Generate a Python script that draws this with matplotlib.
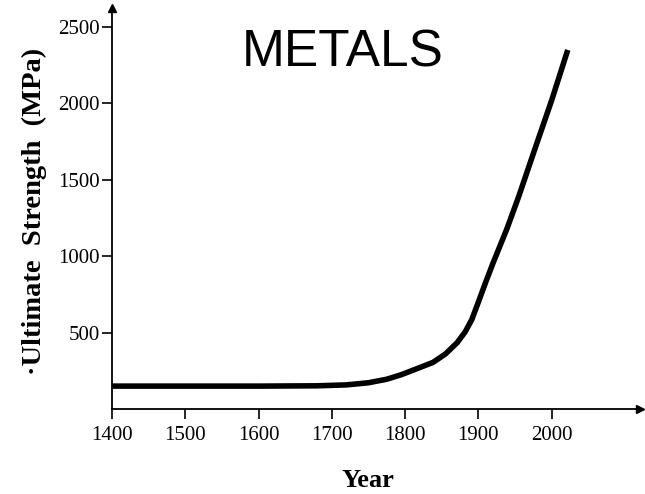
import numpy as np
import matplotlib
matplotlib.use("Agg")
import matplotlib.pyplot as plt

# values
years = [1400, 1500, 1600, 1680, 1720, 1750, 1775, 1795, 1815, 1838, 1855,
         1871, 1882, 1891, 1900, 1910, 1920, 1939, 1955, 1977, 2000, 2022]
strength = [150, 150, 150, 152, 158, 172, 195, 225, 262, 305, 360,
            434, 505, 585, 700, 830, 955, 1180, 1390, 1700, 2020, 2350]

x_ticks = [1400, 1500, 1600, 1700, 1800, 1900, 2000]
y_ticks = [500, 1000, 1500, 2000, 2500]

plt.rcParams['font.family'] = ['Liberation Serif', 'DejaVu Serif']

fig = plt.figure(figsize=(6.45, 4.94), dpi=100)
ax = fig.add_axes([0.1736, 0.172, 0.818, 0.812])

ax.plot(years, strength, color='black', linewidth=4,
        solid_capstyle='butt', solid_joinstyle='round')

ax.set_xlim(1400, 2120)
ax.set_ylim(0, 2625)

ax.spines['top'].set_visible(False)
ax.spines['right'].set_visible(False)
ax.spines['left'].set_linewidth(1.3)
ax.spines['bottom'].set_linewidth(1.3)

# arrow heads at the axis ends
ax.plot(1, 0, '>k', transform=ax.transAxes, clip_on=False, markersize=6)
ax.plot(0, 1, '^k', transform=ax.transAxes, clip_on=False, markersize=6)

ax.set_xticks(x_ticks)
ax.set_xticklabels([str(t) for t in x_ticks])
ax.set_yticks(y_ticks)
ax.set_yticklabels([str(t) for t in y_ticks])
ax.tick_params(axis='x', direction='out', length=7, width=1.2, labelsize=15, pad=5)
ax.tick_params(axis='y', direction='out', length=7, width=1.2, labelsize=15, pad=2)

fig.text(0.570, 0.028, 'Year', fontsize=19, fontweight='bold',
         ha='center', va='center')
fig.text(0.054, 0.573, '\u00b7Ultimate  Strength  (MPa)', fontsize=20.5,
         fontweight='bold', rotation=90, ha='center', va='center')

fig.text(0.532, 0.893, 'METALS', fontsize=37, family='Liberation Sans',
         ha='center', va='center')

plt.savefig("out.png", dpi=100)
